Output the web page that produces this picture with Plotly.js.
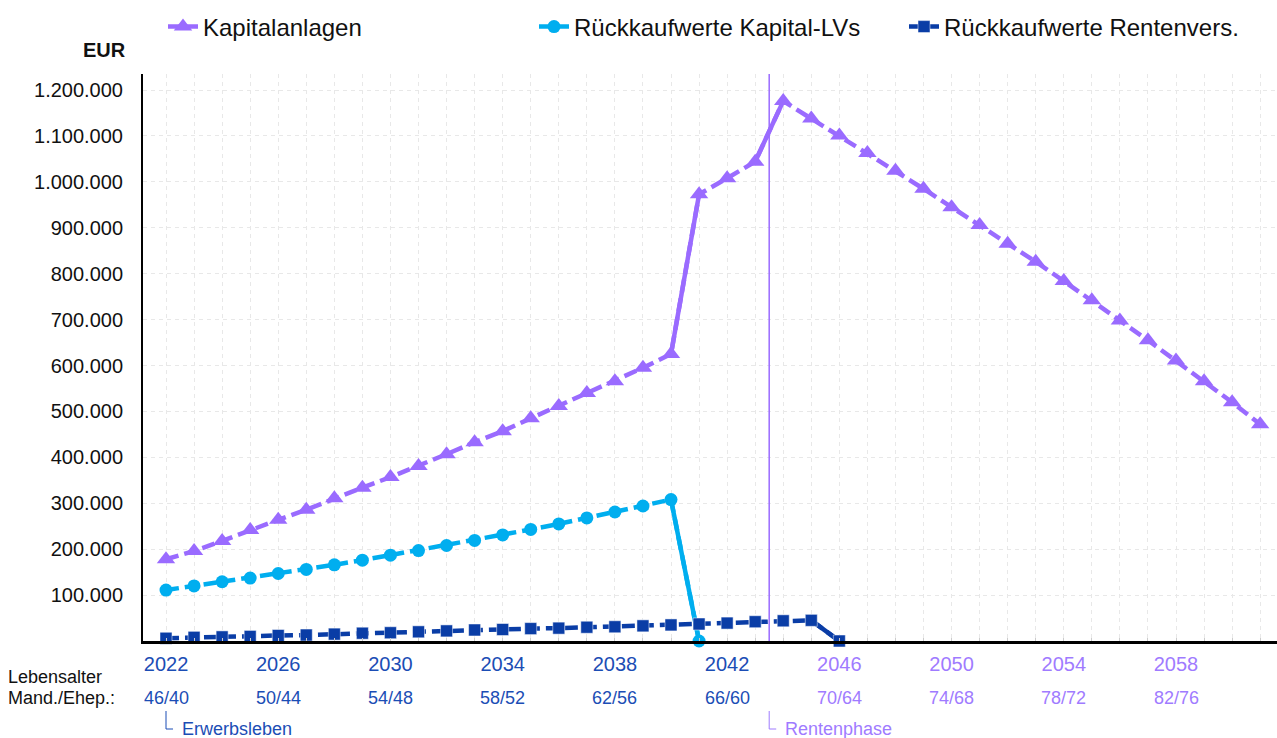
<!DOCTYPE html>
<html>
<head>
<meta charset="utf-8">
<script src="https://cdn.plot.ly/plotly-3.0.1.min.js"></script>
<style>
  html, body { margin: 0; padding: 0; background: #fff; }
  #chart { width: 1277px; height: 738px; }
</style>
</head>
<body>
<div id="chart"></div>
<script>
// ---- data ----
const yearsKapital = [2022,2023,2024,2025,2026,2027,2028,2029,2030,2031,2032,2033,2034,2035,2036,2037,2038,2039,2040,2041,2042,2043,2044,2045,2046,2047,2048,2049,2050,2051,2052,2053,2054,2055,2056,2057,2058,2059,2060,2061];
const kapitalanlagen = [178000,196000,218000,242000,264000,286000,311000,334000,357000,381000,407000,433000,457000,485000,512000,540000,566000,595000,625000,973000,1008000,1044000,1176000,1138000,1101000,1063000,1024000,985000,945000,906000,865000,826000,784000,742000,698000,655000,611000,566000,520000,472000];

const yearsKapitalLV = [2022,2023,2024,2025,2026,2027,2028,2029,2030,2031,2032,2033,2034,2035,2036,2037,2038,2039,2040,2041];
const rueckKapitalLV = [111000,120000,129000,137000,147000,156000,166000,176000,187000,197000,208000,219000,231000,243000,255000,268000,281000,294000,308000,0];

const yearsRenten = [2022,2023,2024,2025,2026,2027,2028,2029,2030,2031,2032,2033,2034,2035,2036,2037,2038,2039,2040,2041,2042,2043,2044,2045,2046];
const rueckRenten = [6000,8000,9000,10000,12000,13000,15000,17000,18000,20000,22000,24000,25000,27000,28000,30000,31000,33000,35000,37000,39000,42000,44000,45000,0];

// segments drawn solid (start year of segment)
const kapitalSolidFrom = [2040, 2043];
const kapitalLVSolidFrom = [2040];
const rentenSolidFrom = [2045];

const tickYears = [2022,2026,2030,2034,2038,2042,2046,2050,2054,2058];
const ageLabels = ['46/40','50/44','54/48','58/52','62/56','66/60','70/64','74/68','78/72','82/76'];
const yTicks = [100000,200000,300000,400000,500000,600000,700000,800000,900000,1000000,1100000,1200000];

const rentenStart = 2043.5;
const phaseStarts = [2022, 2043.5];
const phaseNames = ['Erwerbsleben', 'Rentenphase'];

// ---- styles ----
const cPurple = '#9a6bff';
const cPurpleText = '#9f7bff';
const cLight = '#00aeef';
const cDark = '#0a3da6';
const cBlueText = '#1b4db5';
const FONT = 'Arial, "Liberation Sans", sans-serif';
const DASH = '13px,6px';

function solidSegments(xs, ys, starts, color) {
  return starts.map(s => {
    const i = xs.indexOf(s);
    return {
      x: [xs[i], xs[i+1]], y: [ys[i], ys[i+1]],
      type: 'scatter', mode: 'lines', showlegend: false, hoverinfo: 'skip',
      line: { color: color, width: 4.5 }, cliponaxis: false
    };
  });
}

const traces = [
  ...solidSegments(yearsKapital, kapitalanlagen, kapitalSolidFrom, cPurple),
  ...solidSegments(yearsKapitalLV, rueckKapitalLV, kapitalLVSolidFrom, cLight),
  ...solidSegments(yearsRenten, rueckRenten, rentenSolidFrom, cDark),
  {
    x: yearsKapital, y: kapitalanlagen, name: 'Kapitalanlagen', legend: 'legend',
    type: 'scatter', mode: 'lines+markers', cliponaxis: false,
    line: { color: cPurple, width: 4.5, dash: DASH },
    marker: { symbol: 'triangle-up', size: 16, color: cPurple }
  },
  {
    x: yearsKapitalLV, y: rueckKapitalLV, name: 'Rückkaufwerte Kapital-LVs', legend: 'legend2',
    type: 'scatter', mode: 'lines+markers', cliponaxis: false,
    line: { color: cLight, width: 4.5, dash: DASH },
    marker: { symbol: 'circle', size: 13, color: cLight }
  },
  {
    x: yearsRenten, y: rueckRenten, name: 'Rückkaufwerte Rentenvers.', legend: 'legend3',
    type: 'scatter', mode: 'lines+markers', cliponaxis: false,
    line: { color: cDark, width: 4.5, dash: DASH },
    marker: { symbol: 'square', size: 12, color: cDark, line: { color: '#ffffff', width: 0.5 } }
  }
];

const tickText = tickYears.map(y =>
  `<span style="color:${y < rentenStart ? cBlueText : cPurpleText}">${y}</span>`);

// plot area geometry (px): left 143, right 1277, top 74, bottom 641
const PH = 641 - 74;
const PW = 1277 - 143;
const py = px => (641 - px) / PH;
const pxX = px => (px - 143) / PW;

const annotations = [
  { xref: 'paper', yref: 'paper', x: pxX(128), y: py(50), xanchor: 'right', yanchor: 'middle',
    text: '<b>EUR</b>', showarrow: false, font: { family: FONT, size: 20, color: '#111' } },
  { xref: 'paper', yref: 'paper', x: pxX(6), y: py(677), xanchor: 'left', yanchor: 'middle',
    text: 'Lebensalter', showarrow: false, font: { family: FONT, size: 18, color: '#111' } },
  { xref: 'paper', yref: 'paper', x: pxX(6), y: py(698), xanchor: 'left', yanchor: 'middle',
    text: 'Mand./Ehep.:', showarrow: false, font: { family: FONT, size: 18, color: '#111' } },
  ...tickYears.map((y, i) => ({
    xref: 'x', yref: 'paper', x: y, y: py(698), xanchor: 'center', yanchor: 'middle',
    text: ageLabels[i], showarrow: false,
    font: { family: FONT, size: 18, color: y < rentenStart ? cBlueText : cPurpleText }
  })),
  ...phaseStarts.map((s, i) => ({
    xref: 'x', yref: 'paper', x: s + 0.5, y: py(729), xanchor: 'left', yanchor: 'middle',
    text: phaseNames[i], showarrow: false,
    font: { family: FONT, size: 18, color: s < rentenStart ? cBlueText : cPurpleText }
  }))
];

const shapes = [
  { type: 'line', xref: 'x', yref: 'paper', x0: rentenStart, x1: rentenStart, y0: 0, y1: 1,
    line: { color: cPurple, width: 1.5 } },
  ...phaseStarts.map(s => ({
    type: 'path', xref: 'x', yref: 'paper',
    path: `M ${s},${py(711)} L ${s},${py(729)} L ${s + 0.25},${py(729)}`,
    line: { color: s < rentenStart ? cBlueText : cPurpleText, width: 1 }
  }))
];

function legendAt(px) {
  return {
    orientation: 'h', x: pxX(px), xanchor: 'left', y: py(27), yanchor: 'middle',
    font: { family: FONT, size: 24, color: '#111' }, bgcolor: 'rgba(0,0,0,0)'
  };
}

const layout = {
  width: 1277, height: 738,
  margin: { l: 143, r: 0, t: 74, b: 97, pad: 0, autoexpand: false },
  paper_bgcolor: '#ffffff', plot_bgcolor: '#ffffff',
  separators: ',.',
  font: { family: FONT, size: 20, color: '#111' },
  showlegend: true,
  legend: legendAt(163),
  legend2: legendAt(534),
  legend3: legendAt(904),
  xaxis: {
    range: [2021.18, 2061.6],
    tickmode: 'array', tickvals: tickYears, ticktext: tickText,
    tickfont: { family: FONT, size: 20 },
    ticks: '', ticklabelstandoff: 3,
    showline: true, linecolor: '#000', linewidth: 3,
    showgrid: true, gridcolor: '#e8e8e8', griddash: '4px,4px', gridwidth: 1,
    minor: { dtick: 1, tick0: 2022, showgrid: true, gridcolor: '#e8e8e8', griddash: '4px,4px', gridwidth: 1,
             ticks: 'inside', ticklen: 3, tickcolor: '#cccccc' },
    zeroline: false, fixedrange: true, automargin: false
  },
  yaxis: {
    range: [0, 1235000],
    tickmode: 'array', tickvals: yTicks, tickformat: ',d',
    tickfont: { family: FONT, size: 20, color: '#111' },
    ticks: '', ticklabelstandoff: 14,
    showline: true, linecolor: '#000', linewidth: 2,
    showgrid: true, gridcolor: '#e8e8e8', griddash: '4px,4px', gridwidth: 1,
    zeroline: false, fixedrange: true, automargin: false
  },
  annotations: annotations,
  shapes: shapes
};

Plotly.newPlot('chart', traces, layout, { displayModeBar: false, staticPlot: true });
</script>
</body>
</html>
